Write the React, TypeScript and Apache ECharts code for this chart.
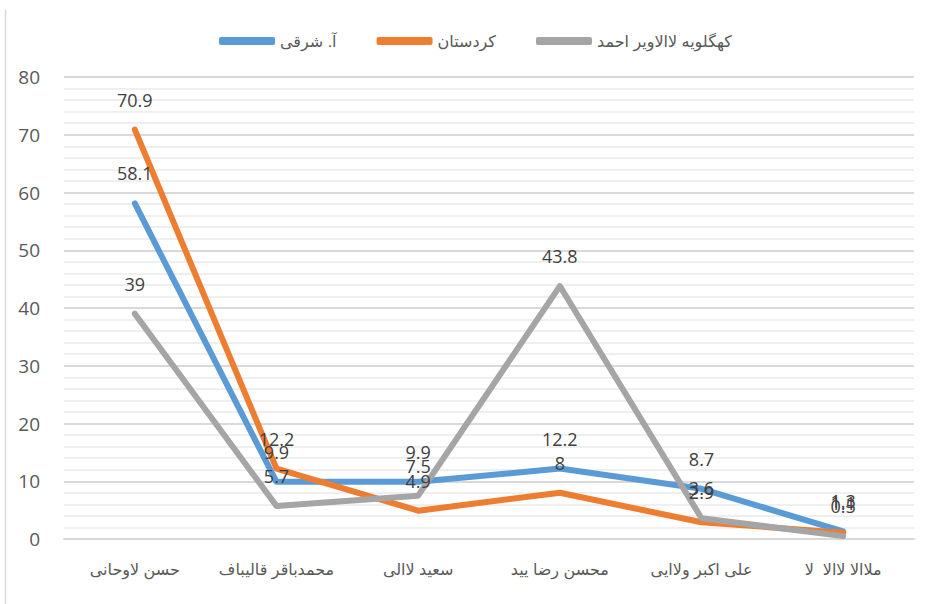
import React, { useEffect, useRef } from "react";
import * as echarts from "echarts";

const categories = [
  "حسن لاوحانی",
  "محمدباقر قالیباف",
  "سعید لاالی",
  "محسن رضا یید",
  "علی اکبر ولاایی",
  "ملاالا لاالا  لا",
];
const seriesNames = ["آ. شرقی", "کردستان", "کهگلویه لاالاویر احمد"];
const eastAzerbaijan = [58.1, 9.9, 9.9, 12.2, 8.7, 1.3];
const kurdistan = [70.9, 12.2, 4.9, 8, 2.9, 1.1];
const kohgiluyeh = [39, 5.7, 7.5, 43.8, 3.6, 0.5];
const colors = ["#5B9BD5", "#ED7D31", "#A5A5A5"];
const yTicks = { min: 0, max: 80, interval: 10 };

export default function App() {
  const ref = useRef<HTMLDivElement>(null);
  useEffect(() => {
    if (!ref.current) return;
    const chart = echarts.init(ref.current, null, { renderer: "svg" });
    const values = [eastAzerbaijan, kurdistan, kohgiluyeh];
    const numFont = "'Open Sans', 'DejaVu Sans', sans-serif";
    const textFont = "'Liberation Sans', 'DejaVu Sans', sans-serif";
    chart.setOption({
      animation: false,
      backgroundColor: "#ffffff",
      color: colors,
      graphic: [
        {
          type: "line",
          shape: { x1: 5.5, y1: 10, x2: 5.5, y2: 604 },
          style: { stroke: "#d9d9d9", lineWidth: 1.5 },
        },
      ],
      legend: {
        top: 28,
        left: 214,
        itemWidth: 56,
        itemHeight: 8,
        itemGap: 40,
        icon: "roundRect",
        textStyle: { fontSize: 16, color: "#595959", fontFamily: textFont },
        data: seriesNames,
      },
      grid: { left: 64, right: 14, top: 77, bottom: 65 },
      xAxis: {
        type: "category",
        data: categories,
        boundaryGap: true,
        axisLine: { show: true, lineStyle: { color: "#d9d9d9", width: 2 } },
        axisTick: { show: false },
        axisLabel: {
          margin: 22,
          fontSize: 16,
          color: "#595959",
          fontFamily: textFont,
          interval: 0,
        },
      },
      yAxis: {
        type: "value",
        min: yTicks.min,
        max: yTicks.max,
        interval: yTicks.interval,
        axisLine: { show: false },
        axisTick: { show: false },
        axisLabel: {
          margin: 24,
          fontSize: 19,
          color: "#595959",
          fontFamily: numFont,
        },
        splitLine: { show: true, lineStyle: { color: "#d9d9d9", width: 2 } },
        minorTick: { show: false, splitNumber: 5 },
        minorSplitLine: { show: true, lineStyle: { color: "#efefef", width: 2 } },
      },
      series: seriesNames.map((name, i) => ({
        name,
        type: "line",
        data: values[i],
        symbol: "circle",
        symbolSize: 0,
        showSymbol: true,
        lineStyle: { width: 6, color: colors[i], cap: "round", join: "round" },
        itemStyle: { color: colors[i] },
        label: {
          show: true,
          position: "top",
          distance: 21,
          fontSize: 18,
          color: "#404040",
          fontFamily: numFont,
        },
        labelLayout: { hideOverlap: false },
      })),
    });
    return () => chart.dispose();
  }, []);
  return (
    <div
      ref={ref}
      style={{ position: "fixed", left: 0, top: 0, width: 928, height: 604 }}
    />
  );
}
